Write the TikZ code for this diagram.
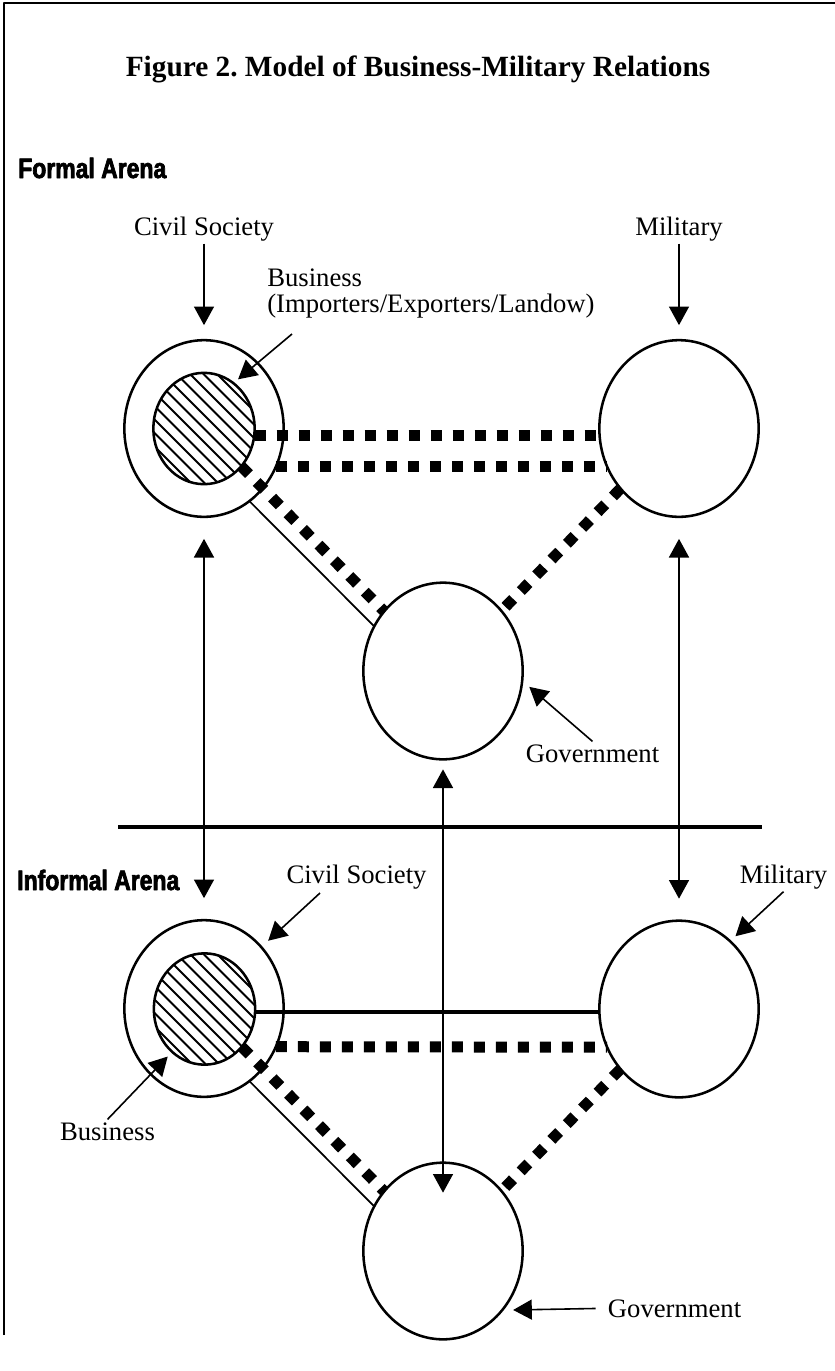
\documentclass[tikz,border=0pt]{standalone}
\usepackage{fontspec}
\setmainfont{Liberation Serif}
\newfontfamily\arenaface[FakeStretch=0.82,BoldFeatures={FakeBold=2.5}]{Liberation Sans}
\usetikzlibrary{arrows.meta}
\usetikzlibrary{shapes.geometric}
\usetikzlibrary{calc}

\begin{document}
\begin{tikzpicture}[line join=round,>={Triangle[length=14pt,width=15pt]},x=0.75pt,y=-0.75pt,
  ring/.style={draw,ellipse,line width=1.9pt,inner sep=0pt,outer sep=0pt,minimum width=119.5pt,minimum height=132.5pt},
  core/.style={draw,ellipse,line width=1.9pt,inner sep=0pt,outer sep=0pt,minimum width=76pt,minimum height=83.5pt},
  lbl/.style={font=\fontsize{20pt}{19.5pt}\selectfont,inner sep=2pt},
  arena/.style={font=\arenaface\bfseries\fontsize{21pt}{24pt}\selectfont,inner sep=0pt,anchor=base west},
  sqline/.style={line width=8.25pt,line cap=butt,dash pattern=on 8.25pt off 8.25pt},
  pointer/.style={->,line width=1.2pt},
  link/.style={<->,line width=1.2pt,shorten <=16.5pt,shorten >=16.5pt}]
\useasboundingbox (0,0) rectangle (835,1371);
\draw [line width=1.5pt] (4,1335) -- (4,3) -- (835,3);
\node [font=\bfseries\fontsize{22pt}{26pt}\selectfont,anchor=base] (title) at (418,76) {Figure 2.\ Model of Business-Military Relations};

\node [arena] (formal) at (18,178) {Formal Arena};
\node [lbl,anchor=base] (cslab1) at (204,235) {Civil Society};
\node [lbl,anchor=base] (millab1) at (679,235) {Military};
\node [lbl,anchor=north west,align=left,inner sep=0pt] (buslab1) at (267,269) {Business\\(Importers/Exporters/Landow)};
\node [ring] (cs1) at (204,428.5) {};
\node [core] (bus1) at (204,428.5) {};
\node [ring] (mil1) at (679,428.5) {};
\node [ring] (gov1) at (443,671) {};
\node [lbl,anchor=base] (govlab1) at (592.5,762) {Government};

\draw [line width=3.2pt] (118,827) -- (762,827);

\node [arena] (informal) at (17,890) {Informal Arena};
\node [lbl,anchor=base] (cslab2) at (356.5,883) {Civil Society};
\node [lbl,anchor=base] (millab2) at (783.5,883) {Military};
\node [ring] (cs2) at (204,1008.5) {};
\node [core] (bus2) at (204.5,1009) {};
\node [ring] (mil2) at (679,1009) {};
\node [ring] (gov2) at (443,1251) {};
\node [lbl,anchor=base] (buslab2) at (107.5,1140) {Business};
\node [lbl,anchor=base west] (govlab2) at (605,1317) {Government};

\foreach \b in {bus1,bus2}{
\begin{scope}
\clip (\b.center) ellipse (50 and 55);
\foreach \k in {-7,...,7}
  \draw [line width=1.5pt] ($(\b.center)+(\k*13.5-70,-70)$) -- ++(140,140);
\end{scope}
}

\draw [sqline] ([yshift=-5.25pt]bus1.east) -- ([yshift=-5.25pt]mil1.west);
\draw [sqline] (cs1.-28) -- (mil1.-152);
\draw [sqline] (bus1) -- (gov1);
\draw [sqline] (mil1) -- (gov1);
\draw [line width=1.3pt] (cs1.-58) -- (gov1.147);

\draw [line width=3.2pt] ([yshift=-2.25pt]bus2.east) -- ([yshift=-2.25pt]mil2.west);
\draw [sqline] (cs2.-28) -- (mil2.-152);
\draw [sqline] (bus2) -- (gov2);
\draw [sqline] (mil2) -- (gov2);
\draw [line width=1.3pt] (cs2.-58) -- (gov2.147);

\draw [pointer,shorten >=11.25pt] (cslab1.south) -- (cs1.north);
\draw [pointer,shorten >=11.25pt] (millab1.south) -- (mil1.north);
\coordinate (busfrom1) at (292,334);
\draw [pointer,shorten >=4.5pt] (busfrom1) -- (bus1.57);
\draw [pointer,shorten >=7pt] (govlab1.north) -- (gov1.-7);

\draw [link] (cs1.south) -- (cs2.north);
\draw [link] (mil1.south) -- (mil2.north);
\draw [<->,line width=1.2pt,shorten <=7.5pt,shorten >=-22.5pt] (gov1.south) -- (gov2.north);

\coordinate (csfrom2) at (320,893);
\draw [pointer,shorten >=7pt] (csfrom2) -- (cs2.47);
\draw [pointer,shorten >=5.5pt] (millab2.south) -- (mil2.53);
\draw [pointer,shorten >=4.8pt] (buslab2.north) -- (bus2.233);
\draw [pointer,shorten <=7pt,shorten >=8.25pt] (govlab2.west) -- (gov2.-45);
\end{tikzpicture}
\end{document}
